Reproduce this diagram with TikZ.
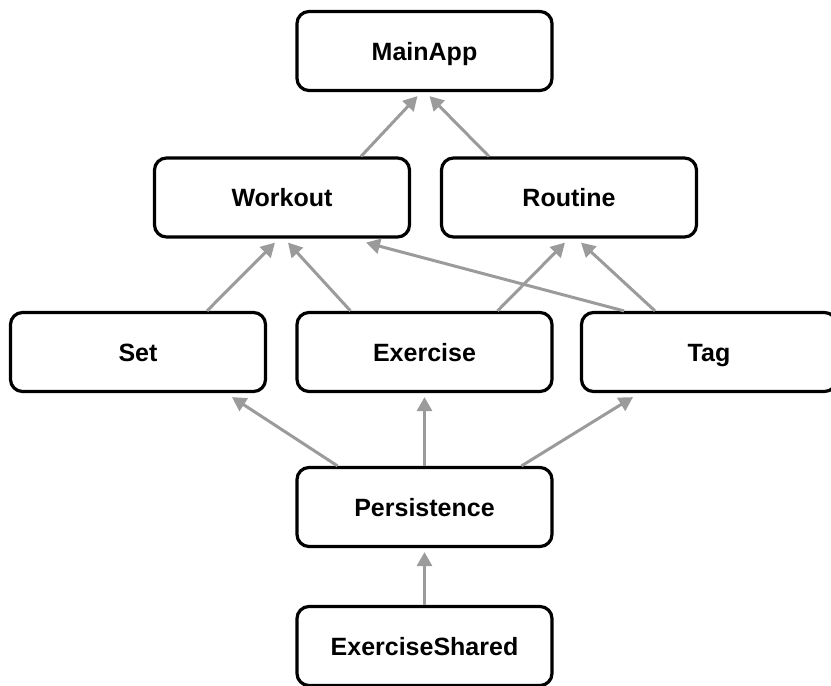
\documentclass[tikz,border=0pt]{standalone}
\usepackage{fontspec}
\setmainfont{Liberation Sans}
\usetikzlibrary{arrows.meta}
\definecolor{arrowgray}{RGB}{155,155,155}
\tikzset{
  box/.style={draw=black, line width=3.2pt, rounded corners=12pt,
    minimum width=255pt, minimum height=79pt, inner sep=0pt,
    font=\fontsize{25}{30}\selectfont\bfseries, text height=18pt, text depth=0pt},
  conn/.style={draw=arrowgray, line width=3pt, -{Triangle[length=14pt,width=15pt]}}
}
\begin{document}
\begin{tikzpicture}[x=1pt,y=-1pt]
\useasboundingbox (0,0) rectangle (831,686);
\node[box] (MainApp) at (424.5,51) {MainApp};
\node[box] (Workout) at (282,197.5) {Workout};
\node[box] (Routine) at (569,197.5) {Routine};
\node[box] (Set) at (138,352) {Set};
\node[box] (Exercise) at (424.5,352) {Exercise};
\node[box] (Tag) at (709,352) {Tag};
\node[box] (Persistence) at (424.5,507) {Persistence};
\node[box] (ExerciseShared) at (424.5,646) {ExerciseShared};

\draw[conn] ([xshift=79pt]Workout.north) -- ([xshift=-7pt,yshift=-4pt]MainApp.south);
\draw[conn] ([xshift=-80pt]Routine.north) -- ([xshift=5pt,yshift=-4pt]MainApp.south);

\draw[conn] ([xshift=69pt]Set.north) -- ([xshift=-7pt,yshift=-4pt]Workout.south);
\draw[conn] ([xshift=-74pt]Exercise.north) -- ([xshift=6pt,yshift=-4pt]Workout.south);
\draw[conn] ([xshift=-85pt]Tag.north) -- ([xshift=84pt,yshift=-4pt]Workout.south);
\draw[conn] ([xshift=73pt]Exercise.north) -- ([xshift=-4pt,yshift=-4pt]Routine.south);
\draw[conn] ([xshift=-54pt]Tag.north) -- ([xshift=12pt,yshift=-4pt]Routine.south);

\draw[conn] ([xshift=-87pt]Persistence.north) -- ([xshift=94pt,yshift=-4pt]Set.south);
\draw[conn] (Persistence.north) -- ([yshift=-4pt]Exercise.south);
\draw[conn] ([xshift=97pt]Persistence.north) -- ([xshift=-76pt,yshift=-4pt]Tag.south);

\draw[conn] (ExerciseShared.north) -- ([yshift=-4pt]Persistence.south);
\end{tikzpicture}
\end{document}
